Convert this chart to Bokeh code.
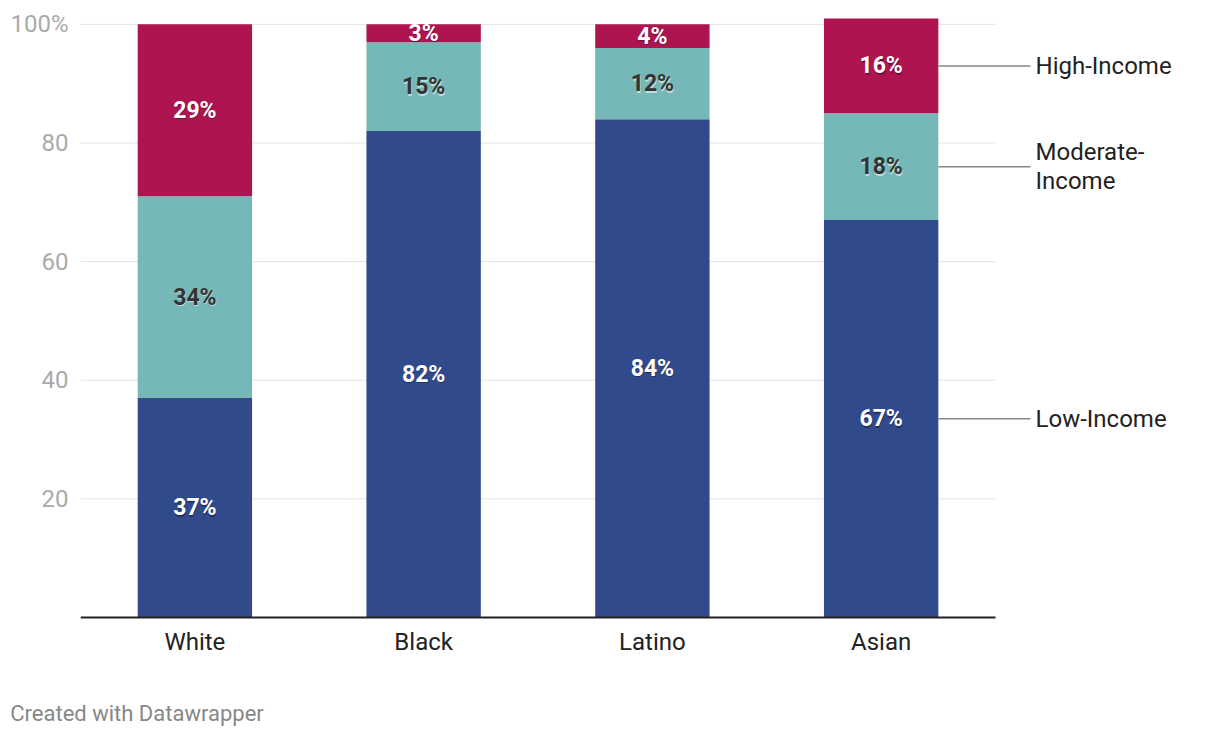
from bokeh.plotting import figure
from bokeh.models import ColumnDataSource, FixedTicker, Range1d, LinearAxis
from bokeh.core.properties import value
from bokeh.embed import file_html
from bokeh.resources import INLINE

# ---- data ----
groups = ["White", "Black", "Latino", "Asian"]
low_income = [37, 82, 84, 67]
moderate_income = [34, 15, 12, 18]
high_income = [29, 3, 4, 16]
series_labels = ["Low-Income", "Moderate-\nIncome", "High-Income"]
y_ticks = [20, 40, 60, 80, 100]
footer_text = "Created with Datawrapper"

colors = ["#314a8b", "#76b8b8", "#ad1450"]
FONT = "Roboto"

xs = list(range(len(groups)))
src = ColumnDataSource(dict(x=xs, low=low_income, mod=moderate_income, high=high_income))

p = figure(width=1216, height=736, output_backend="svg", toolbar_location=None,
           x_range=Range1d(-0.5, 4.466), y_range=Range1d(-0.35, 102),
           min_border_left=80, min_border_right=0, min_border_top=12, min_border_bottom=117)
p.outline_line_color = None
p.background_fill_color = "white"
p.border_fill_color = "white"
p.xgrid.visible = False
p.ygrid.visible = False

# gridlines (only across the bar area)
p.segment(x0=[-0.5] * len(y_ticks), x1=[3.5] * len(y_ticks), y0=y_ticks, y1=y_ticks,
          line_color="#e3e3e3", line_width=1)

# stacked bars
p.vbar_stack(["low", "mod", "high"], x="x", width=0.5, source=src, color=colors, line_color=None)

# baseline
p.segment(x0=[-0.5], x1=[3.5], y0=[0], y1=[0], line_color="#222222", line_width=2)

# value labels
lab_x, lab_y, lab_t, lab_c = [], [], [], []
for i in range(len(groups)):
    base = 0
    for vals, col in ((low_income, "white"), (moderate_income, "#333333"), (high_income, "white")):
        v = vals[i]
        lab_x.append(xs[i]); lab_y.append(base + v / 2); lab_t.append(f"{v}%"); lab_c.append(col)
        base += v
lsrc = ColumnDataSource(dict(x=lab_x, y=lab_y, t=lab_t, c=lab_c,
                             sh=["rgba(0,0,0,0.35)" if c == "white" else "rgba(255,255,255,0.55)" for c in lab_c]))
p.text(x="x", y="y", text="t", source=lsrc, text_color="sh", text_font=value(FONT),
       text_font_style="bold", text_font_size="23px", text_align="center", text_baseline="middle",
       y_offset=1.5, x_offset=0.5)
p.text(x="x", y="y", text="t", source=lsrc, text_color="c", text_font=value(FONT),
       text_font_style="bold", text_font_size="23px", text_align="center", text_baseline="middle")

# series labels with connector lines at the last bar
last = len(groups) - 1
mids = []
base = 0
for vals in (low_income, moderate_income, high_income):
    mids.append(base + vals[last] / 2)
    base += vals[last]
p.segment(x0=[xs[last] + 0.25] * 3, x1=[xs[last] + 0.653] * 3, y0=mids, y1=mids,
          line_color="#888888", line_width=1.5)
p.text(x=[xs[last] + 0.675] * 3, y=mids, text=series_labels, text_color="#222222",
       text_font=value(FONT), text_font_size="24px", text_align="left", text_baseline="middle",
       text_line_height=1.05)

# axes
p.xaxis.ticker = FixedTicker(ticks=xs)
p.xaxis.major_label_overrides = {i: g for i, g in enumerate(groups)}
p.xaxis.axis_line_color = None
p.xaxis.major_tick_line_color = None
p.xaxis.minor_tick_line_color = None
p.xaxis.major_label_text_font = FONT
p.xaxis.major_label_text_font_size = "24px"
p.xaxis.major_label_text_color = "#222222"
p.xaxis.major_label_standoff = 2

p.yaxis.ticker = FixedTicker(ticks=y_ticks)
p.yaxis.major_label_overrides = {100: "100%"}
p.yaxis.axis_line_color = None
p.yaxis.major_tick_line_color = None
p.yaxis.minor_tick_line_color = None
p.yaxis.major_label_text_font = FONT
p.yaxis.major_label_text_font_size = "24px"
p.yaxis.major_label_text_color = "#aaaaaa"
p.yaxis.major_label_standoff = 6

# footer credit as a second, line-less bottom axis with one labelled position
footer_pos = -0.253
footer_axis = LinearAxis(ticker=FixedTicker(ticks=[footer_pos]),
                         major_label_overrides={footer_pos: footer_text},
                         axis_line_color=None, major_tick_line_color=None, minor_tick_line_color=None,
                         major_label_text_font=FONT, major_label_text_font_size="22px",
                         major_label_text_color="#888888", major_label_standoff=36)
p.add_layout(footer_axis, "below")

open("out.html", "w").write(file_html(p, INLINE))
